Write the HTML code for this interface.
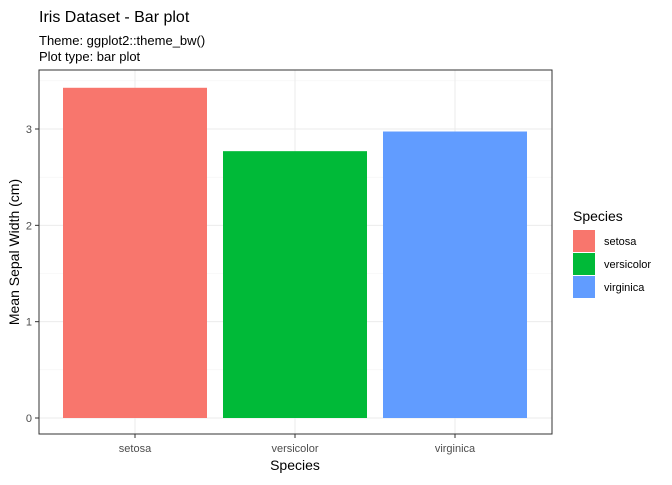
<!DOCTYPE html>
<html><head><meta charset="utf-8"><style>
body{margin:0;background:#fff;font-family:"Liberation Sans",Arial,sans-serif;}
</style></head><body>
<svg width="672" height="480" xmlns="http://www.w3.org/2000/svg" font-family="Liberation Sans, Arial, sans-serif">
<text x="39" y="22" font-size="16" fill="#000">Iris Dataset - Bar plot</text>
<text x="39" y="45" font-size="13" fill="#000">Theme: ggplot2::theme_bw()</text>
<text x="39" y="61" font-size="13" fill="#000">Plot type: bar plot</text>
<g id="grid"></g>
<g id="bars"></g>
<rect x="39" y="70" width="513" height="364" fill="none" stroke="#333" stroke-width="1"/>
<g id="axes"></g>
<text x="295" y="470" font-size="14" text-anchor="middle">Species</text>
<text transform="translate(19,252) rotate(-90)" font-size="14" text-anchor="middle">Mean Sepal Width (cm)</text>
<g id="legend">
<text x="573" y="221" font-size="14">Species</text>
</g>
</svg>
<script>
const categories=["setosa","versicolor","virginica"];
const values=[3.428,2.770,2.974];
const yTicks=[0,1,2,3];
const colors=["#F8766D","#00BA38","#619CFF"];
const ns="http://www.w3.org/2000/svg";
const y0=418,pxPerUnit=96.33;
function yScale(v){return y0-v*pxPerUnit;}
function xScale(i){return 135+i*160;}
const bw=144;
function mk(tag,attrs,parent){const e=document.createElementNS(ns,tag);for(const k in attrs)e.setAttribute(k,attrs[k]);parent.appendChild(e);return e;}
const grid=document.getElementById('grid'),bars=document.getElementById('bars'),axes=document.getElementById('axes'),legend=document.getElementById('legend');
for(let i=0;i<yTicks.length;i++){
 const y=yScale(yTicks[i]);
 const l=mk('line',{x1:39,x2:552,y1:y,y2:y,stroke:'#ebebeb','stroke-width':1},grid);
 
 
 if(i<yTicks.length-1){const ym=yScale((yTicks[i]+yTicks[i+1])/2);
 const m=mk('line',{x1:39,x2:552,y1:ym,y2:ym,stroke:'#f3f3f3','stroke-width':0.6},grid);
 
 }
 const t=mk('line',{x1:35,x2:39,y1:y,y2:y,stroke:'#333'},axes);
 
 
 const tx=mk('text',{x:32,y:y+4,'font-size':11,'text-anchor':'end',fill:'#4d4d4d'},axes);
 tx.textContent=yTicks[i];
 
 
}
const ymTop=yScale(3.5);
const g2=mk('line',{x1:39,x2:552,y1:ymTop,y2:ymTop,stroke:'#f3f3f3','stroke-width':0.6},grid);


categories.forEach((c,i)=>{
 const x=xScale(i);
 const gl=mk('line',{x1:x,x2:x,y1:70,y2:434,stroke:'#ebebeb'},grid);
 
 
 const r=mk('rect',{x:x-bw/2,y:yScale(values[i]),width:bw,height:y0-yScale(values[i]),fill:colors[i]},bars);
 
 
 const t=mk('line',{x1:x,x2:x,y1:434,y2:438,stroke:'#333'},axes);
 
 
 const tx=mk('text',{x:x,y:452,'font-size':11,'text-anchor':'middle',fill:'#4d4d4d'},axes);
 tx.textContent=c;
 
 
 const ly=230+i*23;
 const lr=mk('rect',{x:573,y:ly,width:22,height:22,fill:colors[i]},legend);
 
 
 const lt=mk('text',{x:604,y:ly+15,'font-size':11,fill:'#000'},legend);
 lt.textContent=c;
 
 
});
</script>
</body></html>
